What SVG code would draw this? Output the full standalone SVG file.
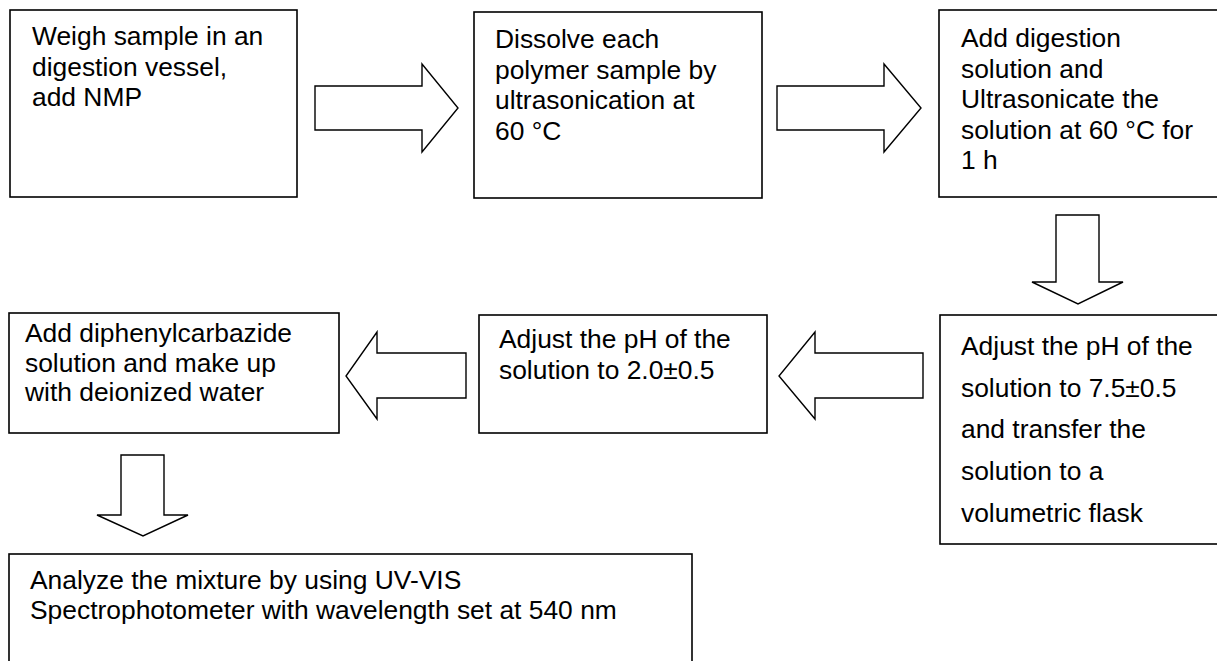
<svg xmlns="http://www.w3.org/2000/svg" width="1217" height="661" viewBox="0 0 1217 661">
<style>
.box{fill:#fff;stroke:#000;stroke-width:1.6}
.arr{fill:#fff;stroke:#000;stroke-width:1.4;stroke-linejoin:miter}
text{font-family:"Liberation Sans",Arial,sans-serif;font-size:26.4px;fill:#000}
</style>
<rect width="1217" height="661" fill="#fff"/>
<g id="connectors">
<polygon class="arr" points="315,86 422,86 422,64 458,108 422,152 422,130 315,130"/>
<polygon class="arr" points="777,86 884,86 884,64 921,108 884,152 884,130 777,130"/>
<polygon class="arr" points="1056,215 1099,215 1099,282 1123,282 1078,304 1032,282 1056,282"/>
<polygon class="arr" points="923,353 815,353 815,332 779,376 815,419 815,398 923,398"/>
<polygon class="arr" points="466,353 377,353 377,332 346,376 377,419 377,398 466,398"/>
<polygon class="arr" points="121,455 164,455 164,515 188,515 143,536 97,515 121,515"/>
</g>
<g id="n1">
<rect class="box" x="10" y="10" width="287" height="187"/>
<text x="32" y="45">Weigh sample in an</text>
<text x="32" y="75.5">digestion vessel,</text>
<text x="32" y="106">add NMP</text>
</g>
<g id="n2">
<rect class="box" x="474" y="12" width="288" height="186"/>
<text x="495" y="48">Dissolve each</text>
<text x="495" y="78.5">polymer sample by</text>
<text x="495" y="109">ultrasonication at</text>
<text x="495" y="139.5">60 °C</text>
</g>
<g id="n3">
<rect class="box" x="939" y="10" width="300" height="187"/>
<text x="961" y="47">Add digestion</text>
<text x="961" y="77.5">solution and</text>
<text x="961" y="108">Ultrasonicate the</text>
<text x="961" y="138.5">solution at 60 °C for</text>
<text x="961" y="169">1 h</text>
</g>
<g id="n4">
<rect class="box" x="940" y="315" width="300" height="229"/>
<text x="961" y="355">Adjust the pH of the</text>
<text x="961" y="397">solution to 7.5±0.5</text>
<text x="961" y="438">and transfer the</text>
<text x="961" y="480">solution to a</text>
<text x="961" y="522">volumetric flask</text>
</g>
<g id="n5">
<rect class="box" x="479" y="315" width="288" height="118"/>
<text x="499" y="348">Adjust the pH of the</text>
<text x="499" y="379">solution to 2.0±0.5</text>
</g>
<g id="n6">
<rect class="box" x="9" y="313" width="330" height="120"/>
<text x="25" y="342">Add diphenylcarbazide</text>
<text x="25" y="371.5">solution and make up</text>
<text x="25" y="401">with deionized water</text>
</g>
<g id="n7">
<rect class="box" x="9" y="554" width="683" height="130"/>
<text x="30" y="589">Analyze the mixture by using UV-VIS</text>
<text x="30" y="619">Spectrophotometer with wavelength set at 540 nm</text>
</g>
</svg>
